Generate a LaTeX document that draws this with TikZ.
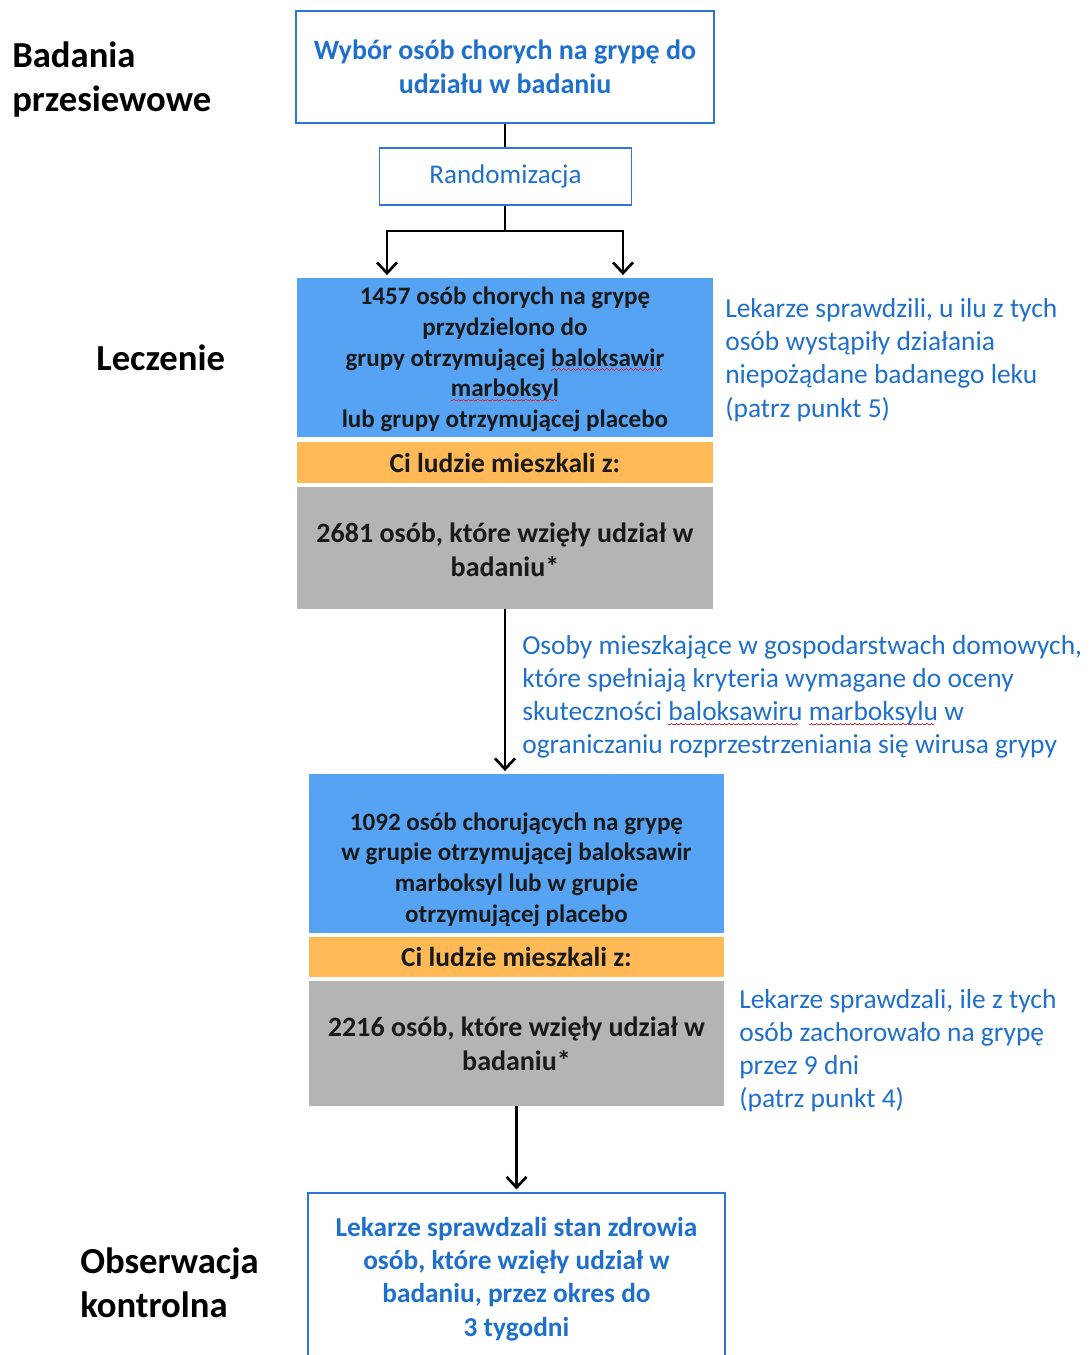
\documentclass[tikz,border=0pt]{standalone}
\usepackage{fontspec}
\setmainfont{Carlito}
\usetikzlibrary{arrows.meta}

\definecolor{txtblue}{RGB}{31,112,204}
\definecolor{lineblue}{RGB}{46,117,214}
\definecolor{fillblue}{RGB}{86,162,243}
\definecolor{fillorange}{RGB}{255,185,86}
\definecolor{fillgray}{RGB}{180,180,180}
\definecolor{wavered}{RGB}{230,40,40}

% spell-check wave under a word
\newsavebox\wavebox
\newcommand\wavebit{\hbox{\rule[-3.3pt]{0.9pt}{0.6pt}\rule[-2.7pt]{0.9pt}{0.6pt}\rule[-2.1pt]{0.9pt}{0.6pt}\rule[-2.7pt]{0.9pt}{0.6pt}}}
\newcommand\redwave[1]{\sbox\wavebox{#1}\rlap{\color{wavered}\hbox to\wd\wavebox{\leaders\wavebit\hfil}}\usebox\wavebox}

\tikzset{
  outlinebox/.style={draw=lineblue, line width=1.4pt, fill=white, text=txtblue, align=center, inner sep=0pt},
  band/.style={inner sep=0pt, align=center, text=black!90},
  bluetxt/.style={font=\bfseries\fontsize{18.8}{23}\selectfont},
  note/.style={anchor=west, align=left, inner sep=0pt, text=txtblue, font=\fontsize{20.6}{24.9}\selectfont},
  phase/.style={anchor=west, align=left, inner sep=0pt, font=\bfseries\fontsize{27.5}{33}\selectfont},
  flow/.style={line width=2pt, black},
  arr/.style={flow, -{Straight Barb[length=8pt,width=15pt]}, shorten >=2pt},
}

\begin{document}
\begin{tikzpicture}[x=0.75pt,y=-0.75pt]
\useasboundingbox (0,0) rectangle (1089,1355);
\clip (0,0) rectangle (1089,1355);

% stages
\node[phase] (screen) at (12,80) {Badania\\przesiewowe};
\node[phase] (treatment) at (96,358) {Leczenie};
\node[phase] (followup) at (80,1283) {Obserwacja\\kontrolna};

% main column
\node[outlinebox, minimum width=313.5pt, minimum height=84pt, font=\bfseries\fontsize{21}{25.5}\selectfont] (sel) at (505,67) {Wybór osób chorych na grypę do\\udziału w badaniu};
\node[outlinebox, line width=1.1pt, minimum width=189pt, minimum height=42.75pt, font=\fontsize{20.3}{24.8}\selectfont] (rand) at (505.5,176.5) {Randomizacja};

\node[band, bluetxt, fill=fillblue, minimum width=312pt, minimum height=119.25pt] (treat) at (505,357.5) {};
\node[band, bluetxt] (treattxt) at (505,359.5) {1457 osób chorych na grypę\\przydzielono do\\grupy otrzymującej \redwave{baloksawir}\\\redwave{marboksyl}\\lub grupy otrzymującej placebo};
\node[band, fill=fillorange, minimum width=312pt, minimum height=30.75pt, font=\bfseries\fontsize{20.6}{25}\selectfont] (live1) at (505,462.5) {Ci ludzie mieszkali z:};
\node[band, fill=fillgray, minimum width=312pt, minimum height=91.5pt] (count1) at (505,548) {};
\node[band, font=\bfseries\fontsize{21}{25.5}\selectfont] (count1txt) at (505,550) {2681 osób, które wzięły udział w\\badaniu*};

\node[band, fill=fillblue, minimum width=311.25pt, minimum height=119.25pt] (ill) at (516.5,853.5) {};
\node[band, bluetxt] (illtxt) at (516.5,869.5) {1092 osób chorujących na grypę\\w grupie otrzymującej baloksawir\\marboksyl lub w grupie\\otrzymującej placebo};
\node[band, fill=fillorange, minimum width=311.25pt, minimum height=30pt, font=\bfseries\fontsize{20.6}{25}\selectfont] (live2) at (516.5,957) {Ci ludzie mieszkali z:};
\node[band, fill=fillgray, minimum width=311.25pt, minimum height=93.75pt, font=\bfseries\fontsize{21}{25.5}\selectfont] (count2) at (516.5,1043.5) {2216 osób, które wzięły udział w\\badaniu*};

\node[outlinebox, minimum width=312.75pt, minimum height=129pt, font=\bfseries\fontsize{20.5}{25}\selectfont] (follow) at (516.5,1279) {Lekarze sprawdzali stan zdrowia\\osób, które wzięły udział w\\badaniu, przez okres do\\3 tygodni};

% notes
\node[note] (adverse) at (725,360) {Lekarze sprawdzili, u ilu z tych\\osób wystąpiły działania\\niepożądane badanego leku\\(patrz punkt 5)};
\node[note] (house) at (522,697) {Osoby mieszkające w gospodarstwach domowych,\\które spełniają kryteria wymagane do oceny\\skuteczności \redwave{baloksawiru} \redwave{marboksylu} w\\ograniczaniu rozprzestrzeniania się wirusa grypy};
\node[note] (sick) at (739,1050.5) {Lekarze sprawdzali, ile z tych\\osób zachorowało na grypę\\przez 9 dni\\(patrz punkt 4)};

% connectors
\coordinate (split) at (505,231);
\draw[flow] (sel.south) -- (sel.south |- rand.north);
\draw[flow] (split |- rand.south) -- (split);
\draw[arr] (split) -| ([xshift=-88.5pt]treat.north);
\draw[arr] (split) -| ([xshift=88.5pt]treat.north);
\draw[arr] (count1.south) -- (count1.south |- ill.north);
\draw[arr] (count2.south) -- (follow.north);
\end{tikzpicture}
\end{document}
